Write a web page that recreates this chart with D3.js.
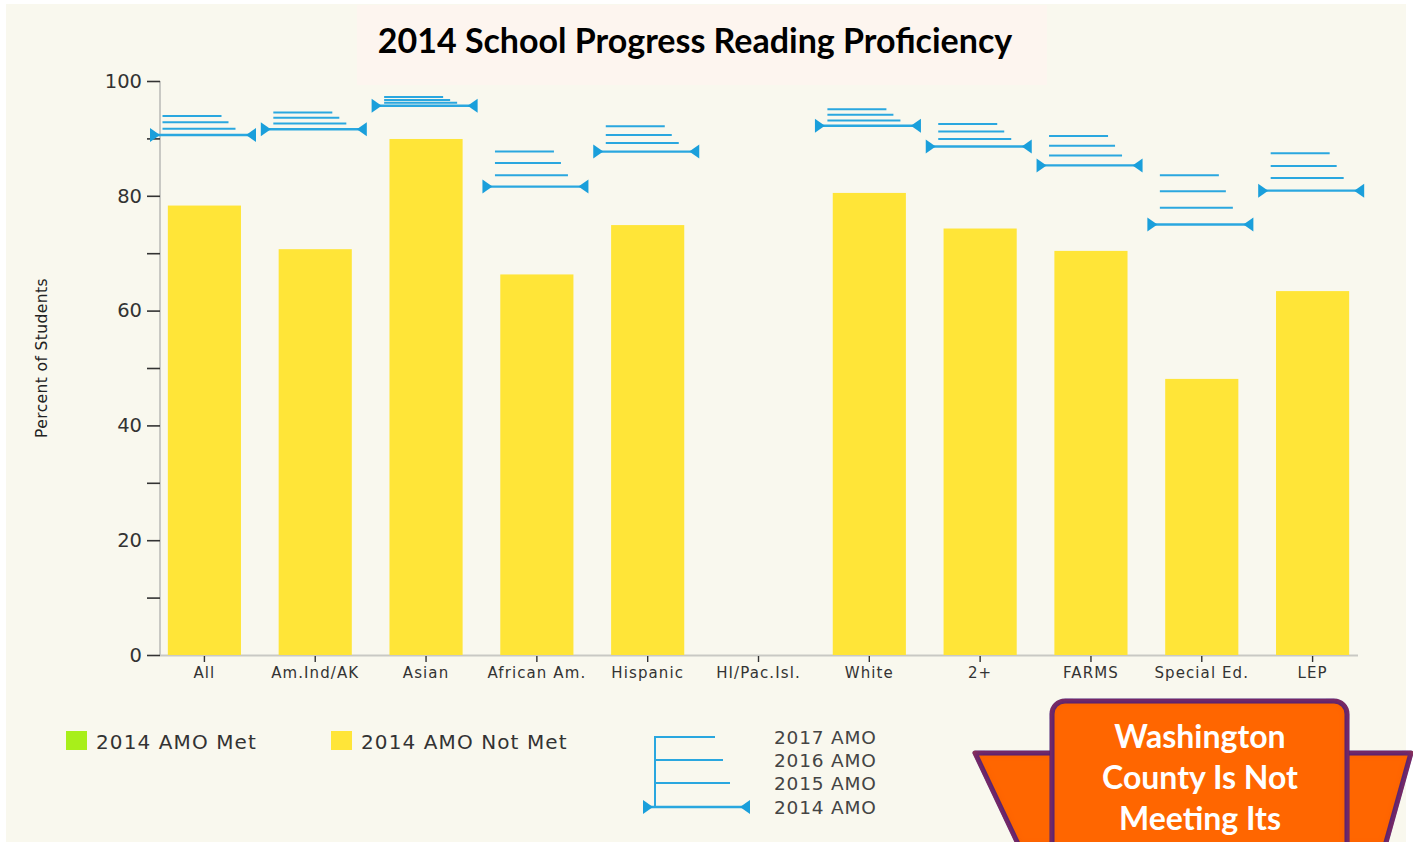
<!DOCTYPE html>
<html>
<head>
<meta charset="utf-8">
<script src="https://cdn.jsdelivr.net/npm/d3@7"></script>
<style>
html,body{margin:0;padding:0;background:#ffffff;}
svg{display:block;}
</style>
</head>
<body>
<svg id="chart" width="1413" height="842"></svg>
<script>
// ---- data ----
const categories = ["All","Am.Ind/AK","Asian","African Am.","Hispanic","HI/Pac.Isl.","White","2+","FARMS","Special Ed.","LEP"];
const proficiency = [78.3, 70.7, 89.9, 66.3, 74.9, null, 80.5, 74.3, 70.4, 48.1, 63.4];
const amo2014 = [90.6, 91.6, 95.7, 81.6, 87.7, null, 92.2, 88.6, 85.3, 75.0, 80.9];
const amo2015 = [91.7, 92.6, 96.2, 83.6, 89.2, null, 93.1, 89.9, 87.0, 77.9, 83.1];
const amo2016 = [92.8, 93.6, 96.7, 85.7, 90.6, null, 94.1, 91.2, 88.7, 80.8, 85.2];
const amo2017 = [93.9, 94.5, 97.2, 87.7, 92.1, null, 95.1, 92.5, 90.4, 83.6, 87.4];
const yMajorTicks = [0, 20, 40, 60, 80, 100];
const yMinorTicks = [10, 30, 50, 70, 90];
const barLegend = ["2014 AMO Met", "2014 AMO Not Met"];
const amoLegend = ["2017 AMO", "2016 AMO", "2015 AMO", "2014 AMO"];
const titleText = "2014 School Progress Reading Proficiency";
const yTitle = "Percent of Students";
const bannerLines = ["Washington", "County Is Not", "Meeting Its"];

// ---- style ----
const C = {
  bg: "#f9f8ee", titleBg: "#fdf5ef", yellow: "#ffe538", green: "#a8ef1a",
  blue: "#1a9fdb", blueLine: "#2aa7df", axis: "#c9c9c4", tick: "#333333", text: "#333333",
  orange: "#ff6600", purple: "#4d2477"
};
const svg = d3.select("#chart");

const defs = svg.append("defs");
const f = defs.append("filter").attr("id","inner").attr("x","-10%").attr("y","-10%").attr("width","120%").attr("height","120%");
f.append("feGaussianBlur").attr("in","SourceAlpha").attr("stdDeviation",4).attr("result","b");
f.append("feComposite").attr("in2","SourceAlpha").attr("in","b").attr("operator","arithmetic").attr("k2",-1).attr("k3",1).attr("result","inv");
f.append("feFlood").attr("flood-color","#b33c00").attr("flood-opacity",0.7);
f.append("feComposite").attr("in2","inv").attr("operator","in").attr("result","sh");
const fm = f.append("feMerge");
fm.append("feMergeNode").attr("in","SourceGraphic");
fm.append("feMergeNode").attr("in","sh");

// background
svg.append("rect").attr("x",6).attr("y",4).attr("width",1400).attr("height",838).attr("fill",C.bg);
svg.append("rect").attr("x",357).attr("y",5).attr("width",690).attr("height",80).attr("fill",C.titleBg);

// title
svg.append("text").attr("x",695).attr("y",53).attr("text-anchor","middle")
  .attr("font-family","Lato, 'Open Sans', sans-serif").attr("font-weight",700).attr("font-size",34)
  .attr("fill","#000").text(titleText);

// scales
const x = d3.scaleBand().domain(categories).range([149, 1368]).padding(0);
const y = d3.scaleLinear().domain([0, 100]).range([655, 81]);
const step = x.bandwidth();
const barW = step * 0.66;

// axes
const axisG = svg.append("g");
axisG.append("line").attr("x1",160).attr("x2",160).attr("y1",y(100)).attr("y2",y(0)).attr("stroke",C.axis).attr("stroke-width",2);
axisG.append("line").attr("x1",160).attr("x2",1358).attr("y1",y(0)+0.5).attr("y2",y(0)+0.5).attr("stroke",C.axis).attr("stroke-width",2);

const yAxis = d3.axisLeft(y).tickValues(yMajorTicks).tickSize(13).tickPadding(5).tickFormat(d3.format("d"));
const yg = svg.append("g").attr("transform","translate(160,0)").call(yAxis);
yg.select(".domain").remove();
yg.selectAll(".tick line").attr("stroke",C.tick).attr("stroke-width",1.6);
yg.selectAll(".tick text").attr("font-family","'DejaVu Sans', Verdana, sans-serif").attr("font-size",19.5).attr("fill",C.text);
const ym = svg.append("g").attr("transform","translate(160,0)").call(d3.axisLeft(y).tickValues(yMinorTicks).tickSize(13).tickFormat(""));
ym.select(".domain").remove();
ym.selectAll(".tick line").attr("stroke",C.tick).attr("stroke-width",1.6);

const xAxis = d3.axisBottom(x).tickSize(6).tickPadding(5);
const xg = svg.append("g").attr("transform",`translate(0,${y(0)+1})`).call(xAxis);
xg.select(".domain").remove();
xg.selectAll(".tick line").attr("stroke",C.tick).attr("stroke-width",1.4);
xg.selectAll(".tick text").attr("font-family","'DejaVu Sans', Verdana, sans-serif").attr("font-size",15)
  .attr("letter-spacing","1.1px").attr("fill",C.text);

// y title
svg.append("text").attr("transform","translate(47,358) rotate(-90)").attr("text-anchor","middle")
  .attr("font-family","'DejaVu Sans', Verdana, sans-serif").attr("font-size",15.5).attr("letter-spacing","0.4px")
  .attr("fill","#222").text(yTitle);

// bars
const rows = categories.map((c,i)=>({c, v:proficiency[i], a14:amo2014[i], a15:amo2015[i], a16:amo2016[i], a17:amo2017[i]}));
svg.append("g").selectAll("rect").data(rows.filter(d=>d.v!=null)).join("rect")
  .attr("x",d=>x(d.c)+(step-barW)/2).attr("width",barW)
  .attr("y",d=>y(d.v)).attr("height",d=>y(0)-y(d.v))
  .attr("fill",d=>d.v>=d.a14?C.green:C.yellow);

// AMO markers
function triR(x0,yc){return `M${x0},${yc-7}L${x0+10},${yc}L${x0},${yc+7}Z`;}
function triL(x0,yc){return `M${x0},${yc-7}L${x0-10},${yc}L${x0},${yc+7}Z`;}
const amoG = svg.append("g");
rows.filter(d=>d.a14!=null).forEach(d=>{
  const x0 = x(d.c);
  const g = amoG.append("g");
  [[d.a17,59],[d.a16,66],[d.a15,73]].forEach(([v,len])=>{
    g.append("line").attr("x1",x0+13.5).attr("x2",x0+13.5+len).attr("y1",y(v)).attr("y2",y(v))
      .attr("stroke",C.blueLine).attr("stroke-width",2);
  });
  g.append("line").attr("x1",x0+2).attr("x2",x0+106).attr("y1",y(d.a14)).attr("y2",y(d.a14))
    .attr("stroke",C.blueLine).attr("stroke-width",2.4);
  g.append("path").attr("d",triR(x0+1,y(d.a14))).attr("fill",C.blue);
  g.append("path").attr("d",triL(x0+107,y(d.a14))).attr("fill",C.blue);
});

// legend: bars
const legFont = "'DejaVu Sans', Verdana, sans-serif";
const legColors = [C.green, C.yellow];
const legX = [66, 331];
barLegend.forEach((t,i)=>{
  svg.append("rect").attr("x",legX[i]).attr("y",731).attr("width",21).attr("height",19).attr("fill",legColors[i]);
  svg.append("text").attr("x",legX[i]+30).attr("y",749).attr("font-family",legFont).attr("font-size",20)
    .attr("letter-spacing","1.1px").attr("fill",C.text).text(t);
});

// legend: AMO
const lg = svg.append("g");
const ly = [737, 760, 783, 807];
const lLen = [60, 68, 75];
lg.append("line").attr("x1",655).attr("x2",655).attr("y1",ly[0]-1).attr("y2",ly[3]).attr("stroke",C.blueLine).attr("stroke-width",2);
lLen.forEach((len,i)=>{
  lg.append("line").attr("x1",655).attr("x2",655+len).attr("y1",ly[i]).attr("y2",ly[i]).attr("stroke",C.blueLine).attr("stroke-width",2);
});
lg.append("line").attr("x1",645).attr("x2",748).attr("y1",ly[3]).attr("y2",ly[3]).attr("stroke",C.blueLine).attr("stroke-width",2.4);
lg.append("path").attr("d",triR(643,ly[3])).attr("fill",C.blue);
lg.append("path").attr("d",triL(750,ly[3])).attr("fill",C.blue);
amoLegend.forEach((t,i)=>{
  lg.append("text").attr("x",774).attr("y",ly[i]+7).attr("font-family",legFont).attr("font-size",18.5)
    .attr("letter-spacing","0.8px").attr("fill","#444").text(t);
});

// banner
const bn = svg.append("g");
bn.append("path").attr("d","M975,753 L1411,753 L1385,846 L1019,846 Z")
  .attr("fill",C.orange).attr("stroke",C.purple).attr("stroke-width",5).attr("stroke-linejoin","round")
  .attr("filter","url(#inner)");
bn.append("rect").attr("x",1052).attr("y",701).attr("width",295).attr("height",170).attr("rx",13)
  .attr("fill",C.orange).attr("stroke",C.purple).attr("stroke-width",5).attr("filter","url(#inner)");
bannerLines.forEach((t,i)=>{
  bn.append("text").attr("x",1200).attr("y",748+i*41).attr("text-anchor","middle")
    .attr("font-family","Lato, 'Open Sans', sans-serif").attr("font-weight",700).attr("font-size",32)
    .attr("fill","#ffffff").text(t);
});
</script>
</body>
</html>
